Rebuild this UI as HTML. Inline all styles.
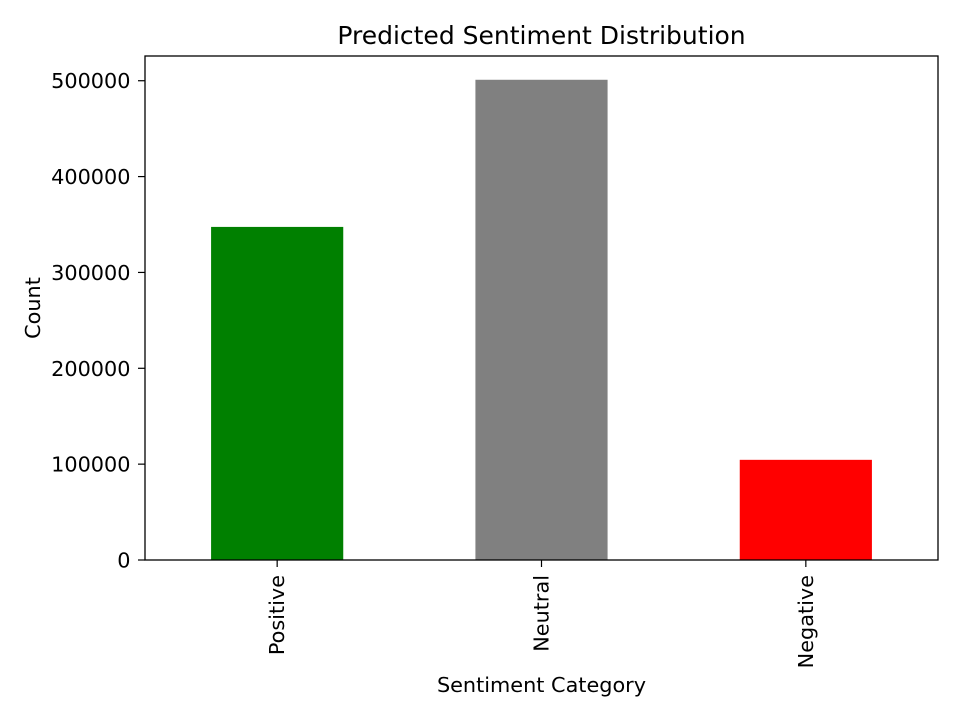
<!DOCTYPE html>
<html><head><meta charset="utf-8"><style>
body{margin:0;background:#fff;}
svg{display:block;font-family:"DejaVu Sans","Liberation Sans",sans-serif;}
</style></head><body>
<svg id="chart" width="960" height="720"></svg>
<script>
const categories = ["Positive","Neutral","Negative"];
const counts = [347500, 501000, 104500];
const barColors = ["#008000","#808080","#ff0000"];
const yTicks = [0,100000,200000,300000,400000,500000];

const NS="http://www.w3.org/2000/svg";
const svg=document.getElementById('chart');
const L=145,R=938,T=56,B=560;
const yMax=525800;
function y(v){return B-(v/yMax)*(B-T);}
function xc(i){return L+(i+0.5)*(R-L)/categories.length;}
const bw=(R-L)/categories.length*0.5;
function mk(tag,attrs,txt){const e=document.createElementNS(NS,tag);for(const k in attrs)e.setAttribute(k,attrs[k]);if(txt!==undefined)e.textContent=txt;svg.appendChild(e);return e;}

categories.forEach((c,i)=>{
  const r=mk('rect',{x:xc(i)-bw/2,y:y(counts[i]),width:bw,height:B-y(counts[i]),fill:barColors[i]});
  
  
  const t=mk('line',{x1:xc(i),x2:xc(i),y1:B,y2:B+7,stroke:'#000','stroke-width':1.2});
  
  
  const lb=mk('text',{x:0,y:0,'font-size':20.8,'text-anchor':'end',transform:`translate(${xc(i)+7},${B+15}) rotate(-90)`},c);
  
  
});
yTicks.forEach(v=>{
  const t=mk('line',{x1:L-7,x2:L,y1:y(v),y2:y(v),stroke:'#000','stroke-width':1.2});
  
  
  const lb=mk('text',{x:L-14.5,y:y(v)+7.5,'font-size':20.8,'text-anchor':'end'},String(v));
  
  
});
const fr=mk('rect',{x:L,y:T,width:R-L,height:B-T,fill:'none',stroke:'#000','stroke-width':1.3});


const ti=mk('text',{x:(L+R)/2,y:44,'font-size':25,'text-anchor':'middle'},'Predicted Sentiment Distribution');


const xt=mk('text',{x:(L+R)/2,y:692,'font-size':20.8,'text-anchor':'middle'},'Sentiment Category');


const yt=mk('text',{x:0,y:0,'font-size':20.8,'text-anchor':'middle',transform:`translate(40,${(T+B)/2}) rotate(-90)`},'Count');


</script>
</body></html>
